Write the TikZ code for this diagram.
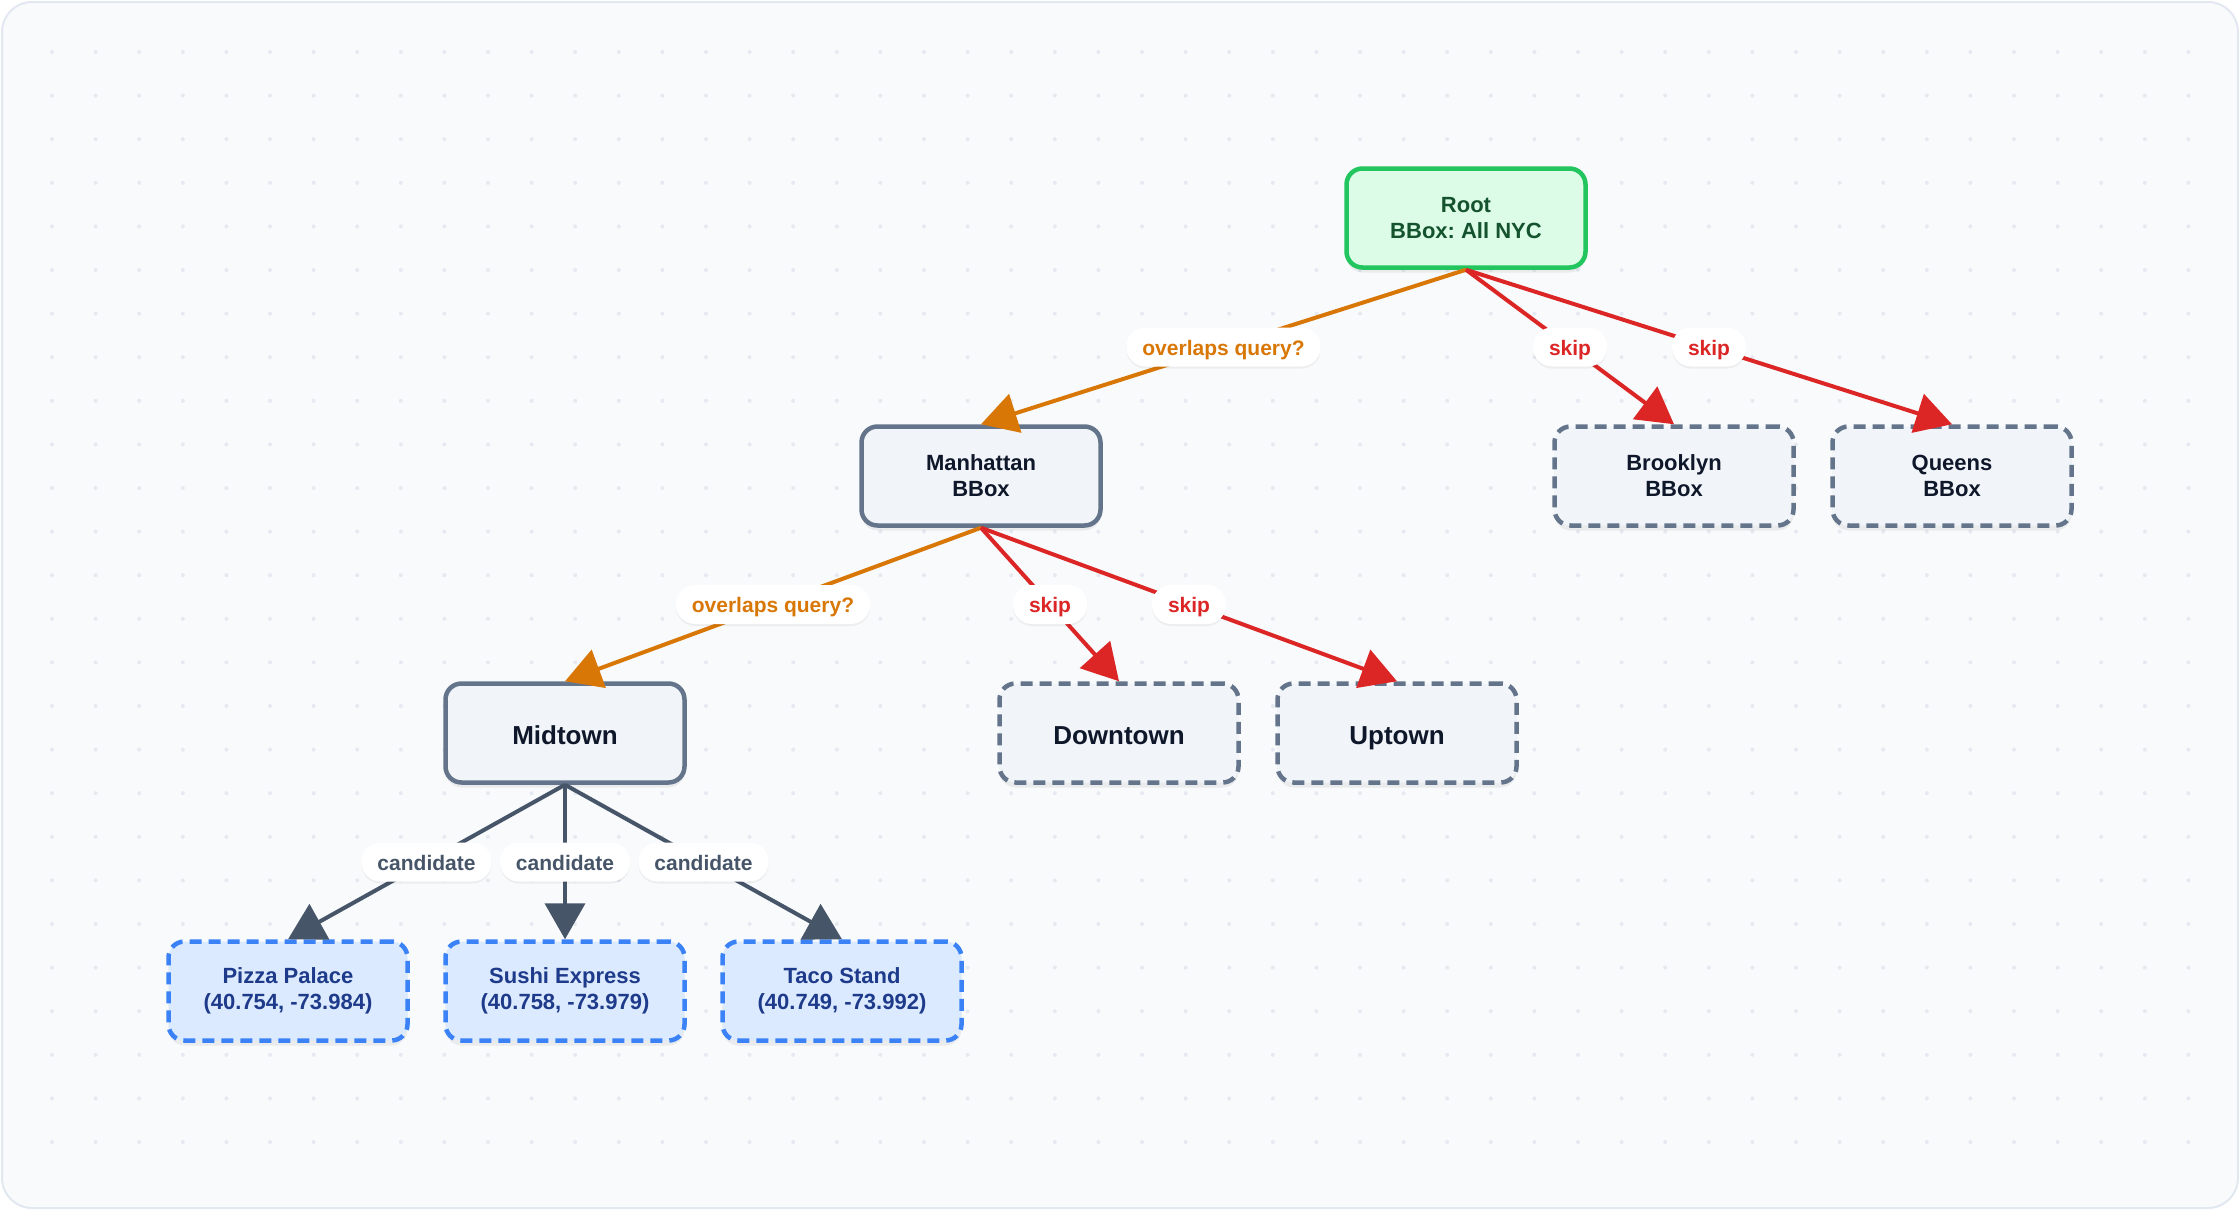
\documentclass[tikz,border=0pt]{standalone}
\usepackage{fontspec}
\setmainfont{Liberation Sans}
\usetikzlibrary{arrows.meta,shadows}
\frenchspacing
\definecolor{bgc}{HTML}{F8FAFC}
\definecolor{bgborder}{HTML}{E2E8F0}
\definecolor{dotc}{HTML}{E5E9F0}
\definecolor{rootfill}{HTML}{DCFCE7}
\definecolor{rootdraw}{HTML}{22C55E}
\definecolor{roottext}{HTML}{14532D}
\definecolor{slatefill}{HTML}{F1F5F9}
\definecolor{slatedraw}{HTML}{64748B}
\definecolor{slatetext}{HTML}{0F172A}
\definecolor{leaffill}{HTML}{DBEAFE}
\definecolor{leafdraw}{HTML}{3B82F6}
\definecolor{leaftext}{HTML}{1E3A8A}
\definecolor{orangec}{HTML}{D97706}
\definecolor{redc}{HTML}{DC2626}
\definecolor{grayc}{HTML}{475569}
\begin{document}
\begin{tikzpicture}[x=1pt,y=-1pt,
  box/.style={rounded corners=16pt, minimum width=239pt, minimum height=99pt, align=center,
    line width=4.5pt, font=\bfseries\fontsize{22}{26}\selectfont\frenchspacing,
    drop shadow={shadow xshift=0pt, shadow yshift=-5pt, opacity=0.06, fill=black}},
  rootbox/.style={box, fill=rootfill, draw=rootdraw, text=roottext},
  solidbox/.style={box, fill=slatefill, draw=slatedraw, text=slatetext},
  dashbox/.style={box, fill=slatefill, draw=slatedraw, text=slatetext, dash pattern=on 12pt off 7pt},
  bigtext/.style={font=\bfseries\fontsize{26}{30}\selectfont, text height=23pt, text depth=1pt},
  leafbox/.style={box, fill=leaffill, draw=leafdraw, text=leaftext, dash pattern=on 12pt off 7pt},
  edge/.style={line width=4pt, -{Triangle[length=36pt,width=40pt]}},
  pill/.style={fill=white, rounded corners=19pt, minimum height=39pt, inner xsep=16pt, inner ysep=0pt,
    font=\bfseries\fontsize{21}{24}\selectfont, text height=18pt, text depth=2pt,
    drop shadow={shadow xshift=0pt, shadow yshift=-2pt, opacity=0.05, fill=black}},
]
\useasboundingbox (0,0) rectangle (2240,1210);
\draw[fill=bgc, draw=bgborder, line width=2pt, rounded corners=30pt] (2,2) rectangle (2238,1208);
\foreach \i in {0,...,49} \foreach \j in {0,...,25} { \fill[dotc] (52+43.6*\i, 52+43.6*\j) circle (2pt); }

\node[rootbox] (root) at (1466,218) {Root\\BBox: All NYC};
\node[solidbox] (man) at (981,476) {Manhattan\\BBox};
\node[dashbox] (bro) at (1674,476) {Brooklyn\\BBox};
\node[dashbox] (que) at (1952,476) {Queens\\BBox};
\node[solidbox, bigtext] (mid) at (565,733) {Midtown};
\node[dashbox, bigtext] (down) at (1119,733) {Downtown};
\node[dashbox, bigtext] (up) at (1397,733) {Uptown};
\node[leafbox] (pizza) at (288,991) {Pizza Palace\\(40.754, -73.984)};
\node[leafbox] (sushi) at (565,991) {Sushi Express\\(40.758, -73.979)};
\node[leafbox] (taco) at (842,991) {Taco Stand\\(40.749, -73.992)};

\draw[edge, orangec] (root.south) -- node[pill, text=orangec] {overlaps query?} (man.north);
\draw[edge, redc] (root.south) -- node[pill, text=redc] {skip} (bro.north);
\draw[edge, redc] (root.south) -- node[pill, text=redc] {skip} (que.north);
\draw[edge, orangec] (man.south) -- node[pill, text=orangec] {overlaps query?} (mid.north);
\draw[edge, redc] (man.south) -- node[pill, text=redc] {skip} (down.north);
\draw[edge, redc] (man.south) -- node[pill, text=redc] {skip} (up.north);
\draw[edge, grayc] (mid.south) -- node[pill, text=grayc] {candidate} (pizza.north);
\draw[edge, grayc] (mid.south) -- node[pill, text=grayc] {candidate} (sushi.north);
\draw[edge, grayc] (mid.south) -- node[pill, text=grayc] {candidate} (taco.north);
\end{tikzpicture}
\end{document}
